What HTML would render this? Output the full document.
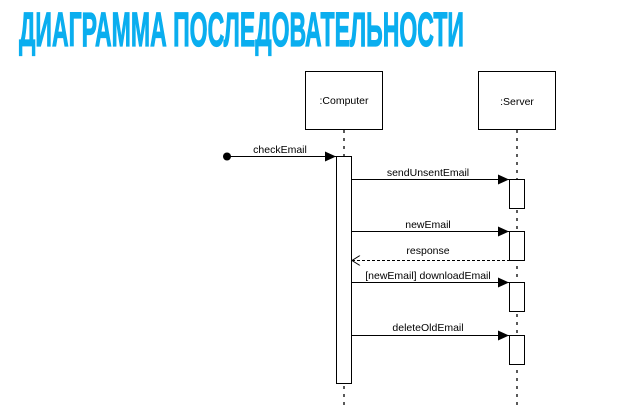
<!DOCTYPE html>
<html><head><meta charset="utf-8"><style>
html,body{margin:0;padding:0;background:#fff;width:629px;height:413px;overflow:hidden}
svg{display:block}
</style></head><body>
<svg width="629" height="413" viewBox="0 0 629 413" xmlns="http://www.w3.org/2000/svg">
<defs>
<marker id="a" markerWidth="12" markerHeight="10" refX="11" refY="5" orient="auto" markerUnits="userSpaceOnUse"><path d="M0,0 L11,5 L0,10 Z" fill="#000"/></marker>
<marker id="o" markerWidth="10" markerHeight="10" refX="1" refY="5" orient="auto" markerUnits="userSpaceOnUse"><path d="M9,0 L1,5 L9,10" fill="none" stroke="#000" stroke-width="1"/></marker>
</defs>
<text x="19" y="46" font-family="'Liberation Sans Narrow','Liberation Sans',sans-serif" font-weight="bold" font-size="48" fill="#0aaeef" stroke="#0aaeef" stroke-width="1.2" textLength="445" lengthAdjust="spacingAndGlyphs">ДИАГРАММА ПОСЛЕДОВАТЕЛЬНОСТИ</text>
<g font-family="'Liberation Sans',sans-serif" font-size="10.5" fill="#000">
<rect x="305.5" y="71.5" width="77" height="58" fill="#fff" stroke="#000"/>
<text x="344" y="104" text-anchor="middle">:Computer</text>
<rect x="478.5" y="71.5" width="77" height="58" fill="#fff" stroke="#000"/>
<text x="517" y="105" text-anchor="middle">:Server</text>
<line x1="344" y1="130" x2="344" y2="405" stroke="#000" stroke-dasharray="3,5" stroke-width="1.3"/>
<line x1="517" y1="130" x2="517" y2="405" stroke="#000" stroke-dasharray="3,5" stroke-width="1.3"/>
<rect x="336.5" y="156.5" width="15" height="227" fill="#fff" stroke="#000"/>
<rect x="509.5" y="179.5" width="15" height="29" fill="#fff" stroke="#000"/>
<rect x="509.5" y="231.5" width="15" height="29" fill="#fff" stroke="#000"/>
<rect x="509.5" y="282.5" width="15" height="29" fill="#fff" stroke="#000"/>
<rect x="509.5" y="335.5" width="15" height="29" fill="#fff" stroke="#000"/>
<circle cx="227" cy="156.5" r="4" fill="#000"/>
<line x1="227" y1="156.5" x2="336" y2="156.5" stroke="#000" marker-end="url(#a)"/>
<text x="280" y="153" text-anchor="middle">checkEmail</text>
<line x1="352" y1="179.5" x2="509" y2="179.5" stroke="#000" marker-end="url(#a)"/>
<text x="428" y="176" text-anchor="middle">sendUnsentEmail</text>
<line x1="352" y1="231.5" x2="509" y2="231.5" stroke="#000" marker-end="url(#a)"/>
<text x="428" y="228" text-anchor="middle">newEmail</text>
<line x1="352" y1="260.5" x2="509" y2="260.5" stroke="#000" stroke-dasharray="3,2" marker-start="url(#o)"/>
<text x="428" y="254" text-anchor="middle">response</text>
<line x1="352" y1="282.5" x2="509" y2="282.5" stroke="#000" marker-end="url(#a)"/>
<text x="428" y="279" text-anchor="middle">[newEmail] downloadEmail</text>
<line x1="352" y1="335.5" x2="509" y2="335.5" stroke="#000" marker-end="url(#a)"/>
<text x="428" y="331" text-anchor="middle">deleteOldEmail</text>
</g>
</svg>
</body></html>
